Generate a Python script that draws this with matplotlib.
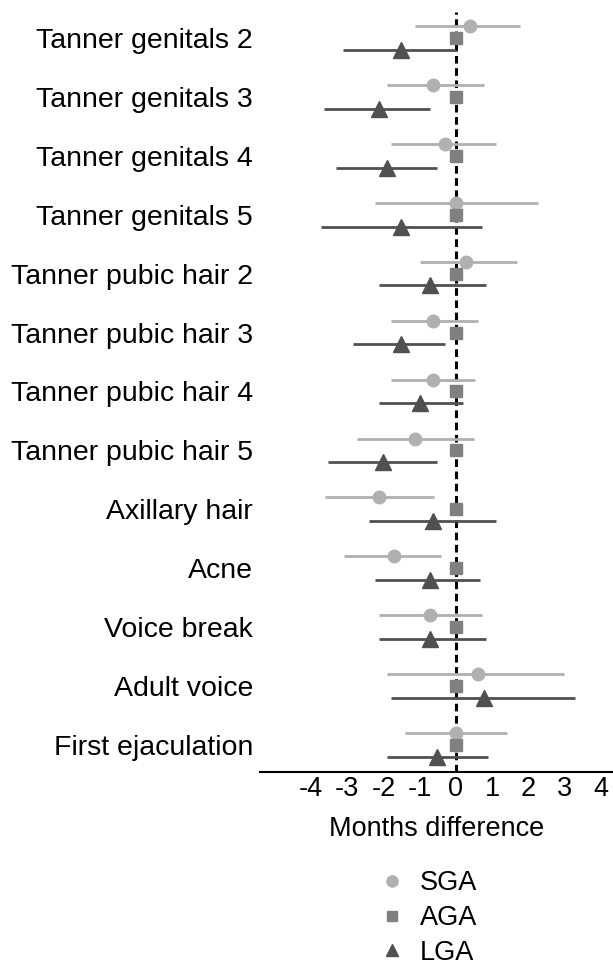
import matplotlib
matplotlib.use('Agg')
import matplotlib.pyplot as plt
from matplotlib.lines import Line2D
import numpy as np

plt.rcParams['font.family'] = ['Liberation Sans', 'DejaVu Sans']

categories = ['Tanner genitals 2', 'Tanner genitals 3', 'Tanner genitals 4', 'Tanner genitals 5',
              'Tanner pubic hair 2', 'Tanner pubic hair 3', 'Tanner pubic hair 4', 'Tanner pubic hair 5',
              'Axillary hair', 'Acne', 'Voice break', 'Adult voice', 'First ejaculation']

# SGA vs AGA: estimate, lower and upper CI
sga_est = [0.38, -0.62, -0.31, 0.0, 0.29, -0.62, -0.62, -1.12, -2.11, -1.71, -0.71, 0.60, 0.0]
sga_lo = [-1.12, -1.91, -1.80, -2.22, -1.00, -1.80, -1.80, -2.72, -3.60, -3.10, -2.11, -1.91, -1.41]
sga_hi = [1.78, 0.79, 1.10, 2.28, 1.70, 0.60, 0.52, 0.49, -0.59, -0.40, 0.71, 3.00, 1.40]

# LGA vs AGA
lga_est = [-1.51, -2.11, -1.91, -1.51, -0.71, -1.51, -1.00, -2.02, -0.62, -0.71, -0.71, 0.79, -0.51]
lga_lo = [-3.12, -3.63, -3.32, -3.71, -2.11, -2.83, -2.11, -3.52, -2.41, -2.22, -2.11, -1.80, -1.91]
lga_hi = [0.0, -0.71, -0.51, 0.71, 0.82, -0.31, 0.21, -0.51, 1.10, 0.68, 0.82, 3.30, 0.90]

# AGA is the reference group
aga_est = [0.0] * len(categories)

xticks = [-4, -3, -2, -1, 0, 1, 2, 3, 4]
groups = ['SGA', 'AGA', 'LGA']

sga_col = '#b0b0b0'
aga_col = '#808080'
lga_col = '#505050'
fs = 19.5

fig = plt.figure(figsize=(6.13, 9.67), dpi=100)
ax = fig.add_axes([0.424, 0.2017, 0.576, 0.7863])

ypos = np.arange(len(categories))
off = 0.2

sga_est = np.array(sga_est)
lga_est = np.array(lga_est)
sga_err = [sga_est - np.array(sga_lo), np.array(sga_hi) - sga_est]
lga_err = [lga_est - np.array(lga_lo), np.array(lga_hi) - lga_est]

ax.axvline(0, color='black', lw=2.2, linestyle=(0, (2.5, 1.5)), zorder=1)

ax.errorbar(sga_est, ypos - off, xerr=sga_err, fmt='o', color=sga_col, ecolor=sga_col,
            elinewidth=2, capsize=0, markersize=9, zorder=3)
ax.plot(aga_est, ypos, 's', color=aga_col, markersize=9, zorder=4)
ax.errorbar(lga_est, ypos + off, xerr=lga_err, fmt='^', color=lga_col, ecolor=lga_col,
            elinewidth=2, capsize=0, markersize=11, zorder=3)

ax.set_xlim(-5.41, 4.34)
ax.set_ylim(12.46, -0.45)
ax.set_yticks(ypos)
ax.set_yticklabels(categories)
ax.set_xticks(xticks)
ax.set_xticklabels([str(t) for t in xticks])
ax.tick_params(axis='both', length=0, labelsize=fs)
ax.tick_params(axis='y', pad=5, labelsize=20.5)
ax.tick_params(axis='x', pad=3)
ax.set_xlabel('Months difference', fontsize=fs, labelpad=10)

for s in ['top', 'right', 'left']:
    ax.spines[s].set_visible(False)
ax.spines['bottom'].set_linewidth(1.5)

handles = [Line2D([], [], linestyle='none', marker='o', color=sga_col, markersize=8),
           Line2D([], [], linestyle='none', marker='s', color=aga_col, markersize=7),
           Line2D([], [], linestyle='none', marker='^', color=lga_col, markersize=9)]
fig.legend(handles, groups, loc='center', bbox_to_anchor=(0.698, 0.0505), frameon=False,
           fontsize=fs, handlelength=1, handletextpad=0.5, labelspacing=0.32)

fig.savefig('out.png', dpi=100)
